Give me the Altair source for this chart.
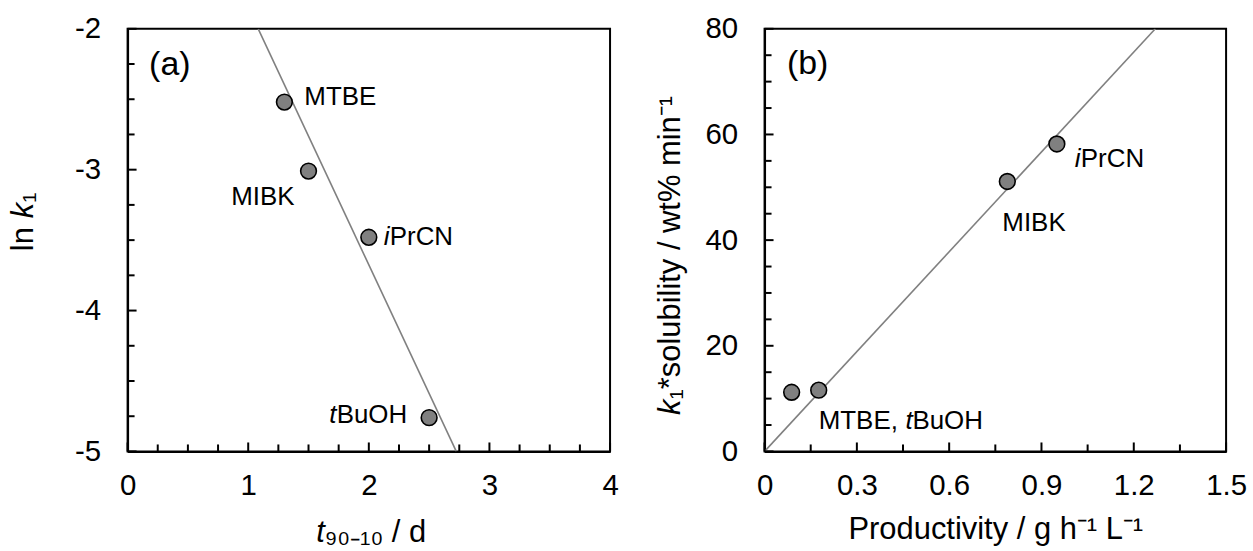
import altair as alt
import pandas as pd

FONT = "Liberation Sans"

# ---------------- Panel (a) data ----------------
a_solvents = ["MTBE", "MIBK", "iPrCN", "tBuOH"]
a_t90_10 = [1.30, 1.50, 2.00, 2.50]
a_lnk1 = [-2.52, -3.01, -3.48, -4.76]
a_fit_x = [1.083, 2.725]
a_fit_y = [-2.0, -5.0]
a_x_major = [0, 1, 2, 3, 4]
a_x_minor = [0.25, 0.5, 0.75, 1.25, 1.5, 1.75, 2.25, 2.5, 2.75, 3.25, 3.5, 3.75]
a_y_major = [-2, -3, -4, -5]
a_y_minor = [-2.25, -2.5, -2.75, -3.25, -3.5, -3.75, -4.25, -4.5, -4.75]

# ---------------- Panel (b) data ----------------
b_solvents = ["MTBE", "tBuOH", "MIBK", "iPrCN"]
b_productivity = [0.088, 0.176, 0.789, 0.950]
b_k1sol = [11.2, 11.6, 51.1, 58.2]
b_fit_x = [0.0, 1.27]
b_fit_y = [0.0, 80.0]
b_x_major = [0, 0.3, 0.6, 0.9, 1.2, 1.5]
b_x_minor = [0.15, 0.45, 0.75, 1.05, 1.35]
b_y_major = [0, 20, 40, 60, 80]
b_y_minor = [5, 10, 15, 25, 30, 35, 45, 50, 55, 65, 70, 75]

# axis title pieces (text, italic)
a_xtitle = [("t", True), ("₉₀₋₁₀ / d", False)]
a_ytitle = [("ln", False), ("k", True), ("₁", False)]
b_xtitle = "Productivity / g h⁻¹ L⁻¹"
b_ytitle = [("k", True), ("₁*solubility / wt% min⁻¹", False)]

H = 424
MAJ = 9
MIN = 7
LBL = 26
TICKFS = 29.5
TITLEFS = 31


def txt(text, italic, x, y, align, baseline="alphabetic", angle=0, size=TITLEFS):
    return alt.Chart(pd.DataFrame({"t": [text]})).mark_text(
        font=FONT, fontSize=size, color="black", align=align, baseline=baseline,
        angle=angle, fontStyle="italic" if italic else "normal"
    ).encode(x=alt.value(x), y=alt.value(y), text="t:N")


def make_panel(width, xdom, ydom, xs_, ys_, fit_x, fit_y, xmaj, xmin, ymaj, ymin,
               xtitle, xlabel_expr, ylabel_expr, labels, tag, tag_xy, extra):
    xscale = alt.Scale(domain=xdom, nice=False, zero=False)
    yscale = alt.Scale(domain=ydom, nice=False, zero=False)
    common = dict(grid=False, ticks=False, tickSize=0,
                  domain=True, domainColor="black", domainWidth=2,
                  labelFontSize=TICKFS, labelFont=FONT, labelColor="black",
                  labelFlush=False, titleFont=FONT, titleFontSize=TITLEFS,
                  titleFontWeight="normal", titleColor="black")
    xaxis = alt.Axis(values=xmaj, title=xtitle, labelPadding=20, labelExpr=xlabel_expr,
                     titlePadding=15, **common)
    yaxis = alt.Axis(values=ymaj, title=None, labelPadding=27, labelExpr=ylabel_expr, **common)
    X = alt.X("x:Q", scale=xscale, axis=xaxis)
    Y = alt.Y("y:Q", scale=yscale, axis=yaxis)

    pts = pd.DataFrame({"x": xs_, "y": ys_})
    fit = pd.DataFrame({"x": fit_x, "y": fit_y})

    line = alt.Chart(fit).mark_line(color="#808080", strokeWidth=1.6, clip=True).encode(x=X, y=Y)
    points = alt.Chart(pts).mark_circle(fill="#808080", stroke="black", strokeWidth=1.6,
                                        opacity=1, size=250).encode(x=X, y=Y)

    def xticks(vals, ln):
        return alt.Chart(pd.DataFrame({"x": vals})).mark_rule(color="black", strokeWidth=2).encode(
            x=X, y=alt.value(H), y2=alt.value(H - ln))

    def yticks(vals, ln):
        return alt.Chart(pd.DataFrame({"y": vals})).mark_rule(color="black", strokeWidth=2).encode(
            y=Y, x=alt.value(0), x2=alt.value(ln))

    layers = [line, points, xticks(xmaj, MAJ), xticks(xmin, MIN), yticks(ymaj, MAJ), yticks(ymin, MIN)]

    for (px, py, parts) in labels:
        for (t, italic, align, dx, dy) in parts:
            layers.append(
                alt.Chart(pd.DataFrame({"x": [px], "y": [py], "t": [t]})).mark_text(
                    font=FONT, fontSize=LBL, color="black", align=align, baseline="middle",
                    dx=dx, dy=dy, fontStyle="italic" if italic else "normal"
                ).encode(x=X, y=Y, text="t:N")
            )
    layers.append(
        alt.Chart(pd.DataFrame({"x": [tag_xy[0]], "y": [tag_xy[1]], "t": [tag]})).mark_text(
            font=FONT, fontSize=34, color="black", align="center", baseline="middle"
        ).encode(x=X, y=Y, text="t:N")
    )
    layers.extend(extra)
    return alt.layer(*layers).properties(width=width, height=H)


# label placements (mark styles), referencing data points
a_labels = [
    (a_t90_10[0], a_lnk1[0], [("MTBE", False, "left", 20, -5)]),
    (a_t90_10[1], a_lnk1[1], [("MIBK", False, "right", -14, 26)]),
    (a_t90_10[2], a_lnk1[2], [("i", True, "left", 15, 0), ("PrCN", False, "left", 21, 0)]),
    (a_t90_10[3], a_lnk1[3], [("t", True, "right", -93, -3), ("BuOH", False, "right", -22, -3)]),
]
b_labels = [
    (b_productivity[1], b_k1sol[1], [("MTBE, ", False, "left", 0, 31), ("t", True, "left", 87, 31),
                                      ("BuOH", False, "left", 94, 31)]),
    (b_productivity[2], b_k1sol[2], [("MIBK", False, "left", -5, 42)]),
    (b_productivity[3], b_k1sol[3], [("i", True, "left", 18, 15), ("PrCN", False, "left", 24, 15)]),
]

# axis titles with italic parts (pixel placement relative to each plot area)
a_extra = [
    txt(a_xtitle[0][0], a_xtitle[0][1], 198, 515, "right"),
    txt(a_xtitle[1][0], a_xtitle[1][1], 198, 515, "left"),
    txt(a_ytitle[0][0], a_ytitle[0][1], -95, 199, "right", angle=270),
    txt(a_ytitle[1][0], a_ytitle[1][1], -95, 190, "left", angle=270),
    txt(a_ytitle[2][0], a_ytitle[2][1], -95, 174.5, "left", angle=270),
]
b_extra = [
    txt(b_ytitle[0][0], b_ytitle[0][1], -85, 372, "right", angle=270),
    txt(b_ytitle[1][0], b_ytitle[1][1], -85, 372, "left", angle=270),
]

pa = make_panel(484, [0, 4], [-5, -2], a_t90_10, a_lnk1, a_fit_x, a_fit_y,
                a_x_major, a_x_minor, a_y_major, a_y_minor,
                None, "'' + datum.value", "'' + datum.value",
                a_labels, "(a)", (0.35, -2.26), a_extra)
pb = make_panel(463, [0, 1.5], [0, 80], b_productivity, b_k1sol, b_fit_x, b_fit_y,
                b_x_major, b_x_minor, b_y_major, b_y_minor,
                b_xtitle, "datum.value == 0 ? '0' : format(datum.value, '.1f')", "'' + datum.value",
                b_labels, "(b)", (0.14, 73.3), b_extra)

chart = alt.hconcat(pa, pb, spacing=155, bounds="flush").properties(
    padding={"left": 7, "top": 12, "right": 5, "bottom": 5},
    background="white",
).configure_view(stroke="black", strokeWidth=2)

chart.save("out.html", embed_options={"renderer": "svg", "actions": False})
